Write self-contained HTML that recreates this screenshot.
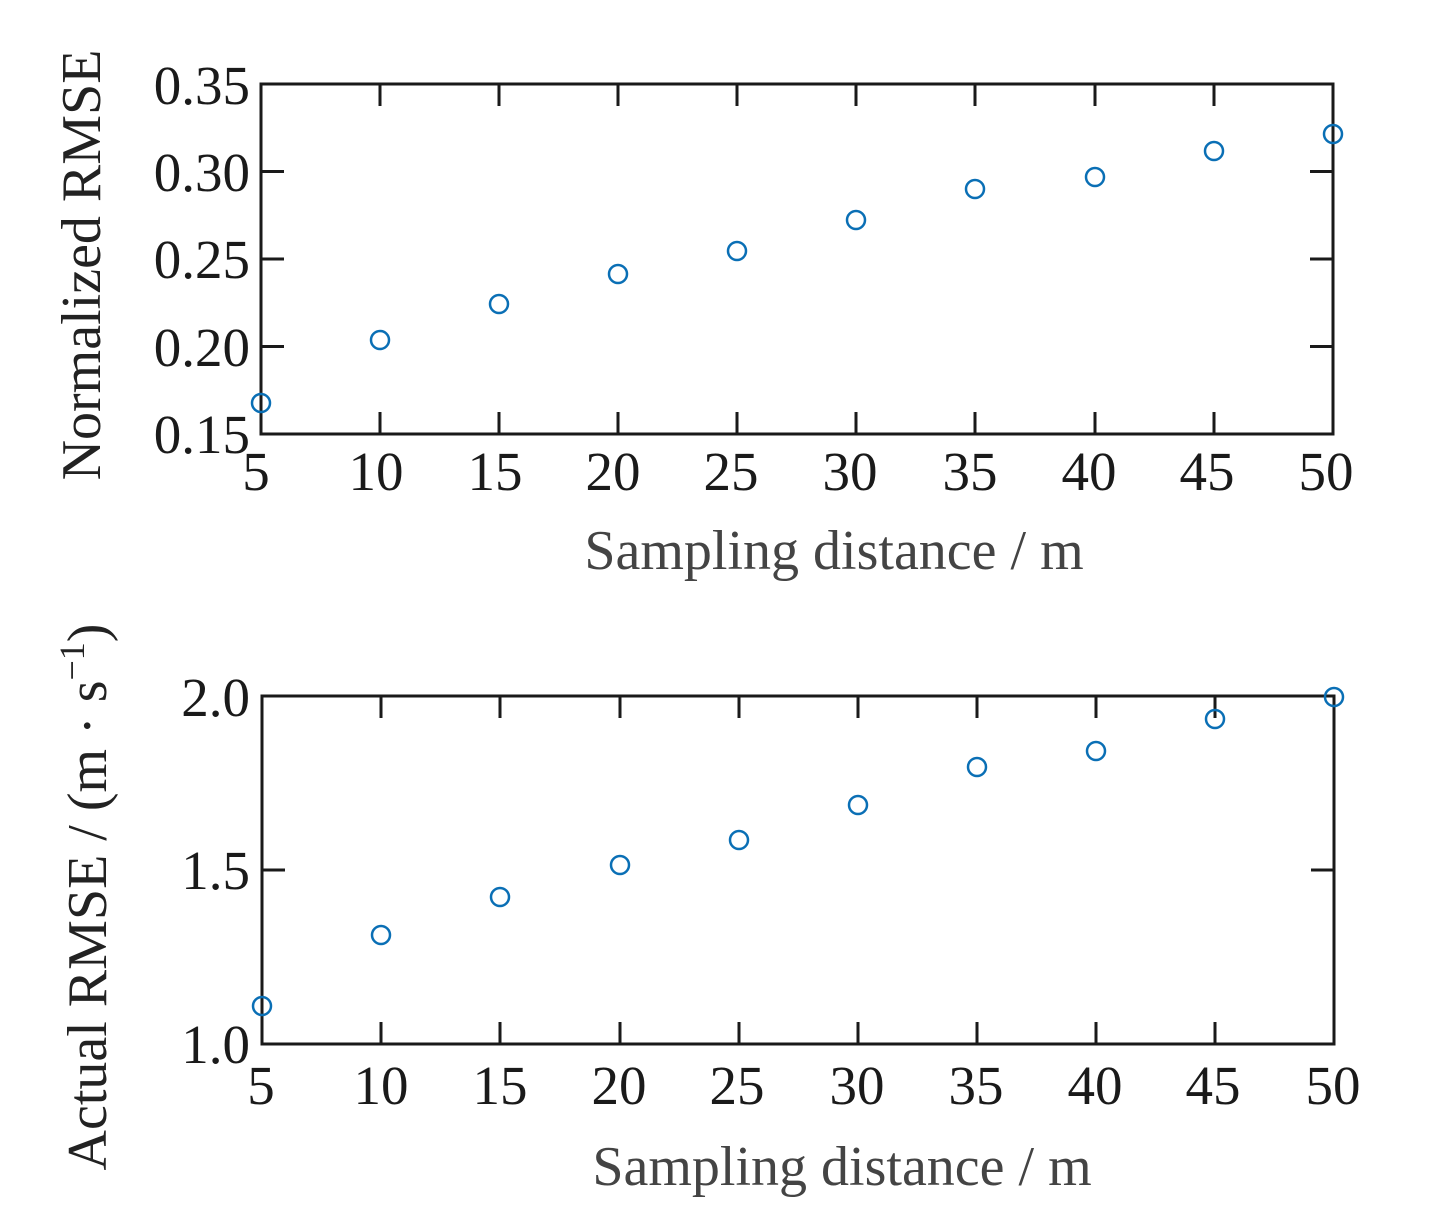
<!DOCTYPE html>
<html><head><meta charset="utf-8"><style>html,body{margin:0;padding:0;background:#fff}</style></head><body>
<svg width="1429" height="1213" xmlns="http://www.w3.org/2000/svg" font-family="Liberation Serif, serif">
<rect width="1429" height="1213" fill="#fff"/>
<g stroke="#1a1a1a" stroke-width="3" fill="none">
<rect x="261" y="84" width="1072" height="350"/>
<path d="M380,84v22M499,84v22M618,84v22M737,84v22M856,84v22M975,84v22M1095,84v22M1214,84v22
M380,434v-22M499,434v-22M618,434v-22M737,434v-22M856,434v-22M975,434v-22M1095,434v-22M1214,434v-22
M261,171.5h23M261,259h23M261,346.5h23M1333,171.5h-23M1333,259h-23M1333,346.5h-23"/>
<rect x="262" y="696" width="1072" height="348"/>
<path d="M381,696v22M500,696v22M620,696v22M739,696v22M858,696v22M977,696v22M1096,696v22M1215,696v22
M381,1044v-22M500,1044v-22M620,1044v-22M739,1044v-22M858,1044v-22M977,1044v-22M1096,1044v-22M1215,1044v-22
M262,870h23M1334,870h-23"/>
</g>
<g fill="none" stroke="#0a6fb5" stroke-width="2.5">
<circle cx="261" cy="403" r="9"/><circle cx="380" cy="340" r="9"/><circle cx="499" cy="304" r="9"/><circle cx="618" cy="274" r="9"/><circle cx="737" cy="251" r="9"/><circle cx="856" cy="220" r="9"/><circle cx="975" cy="189" r="9"/><circle cx="1095" cy="177" r="9"/><circle cx="1214" cy="151" r="9"/><circle cx="1333" cy="134" r="9"/>
<circle cx="262" cy="1006" r="9"/><circle cx="381" cy="935" r="9"/><circle cx="500" cy="897" r="9"/><circle cx="620" cy="865" r="9"/><circle cx="739" cy="840" r="9"/><circle cx="858" cy="805" r="9"/><circle cx="977" cy="767" r="9"/><circle cx="1096" cy="751" r="9"/><circle cx="1215" cy="719" r="9"/><circle cx="1334" cy="697" r="9"/>
</g>
<g font-size="55" fill="#1a1a1a" text-anchor="end">
<text x="250" y="104">0.35</text><text x="250" y="191">0.30</text><text x="250" y="278">0.25</text><text x="250" y="366">0.20</text><text x="250" y="453">0.15</text>
<text x="250" y="716">2.0</text><text x="250" y="889">1.5</text><text x="250" y="1063">1.0</text>
</g>
<g font-size="55" fill="#1a1a1a" text-anchor="middle">
<text x="256" y="490">5</text><text x="376" y="490">10</text><text x="495" y="490">15</text><text x="613" y="490">20</text><text x="731" y="490">25</text><text x="850" y="490">30</text><text x="970" y="490">35</text><text x="1089" y="490">40</text><text x="1207" y="490">45</text><text x="1326" y="490">50</text>
<text x="261" y="1104">5</text><text x="381" y="1104">10</text><text x="500" y="1104">15</text><text x="619" y="1104">20</text><text x="737" y="1104">25</text><text x="857" y="1104">30</text><text x="976" y="1104">35</text><text x="1095" y="1104">40</text><text x="1213" y="1104">45</text><text x="1333" y="1104">50</text>
</g>
<g font-size="56" fill="#444" text-anchor="middle">
<text x="834" y="569">Sampling distance / m</text>
<text x="842" y="1185">Sampling distance / m</text>
</g>
<text font-size="56" fill="#222" text-anchor="middle" transform="translate(100,265) rotate(-90)">Normalized RMSE</text>
<text font-size="56" fill="#222" text-anchor="middle" transform="translate(106,897) rotate(-90)">Actual RMSE / (m · s<tspan font-size="36" dy="-22">−1</tspan><tspan dy="22">)</tspan></text>
</svg>
</body></html>
